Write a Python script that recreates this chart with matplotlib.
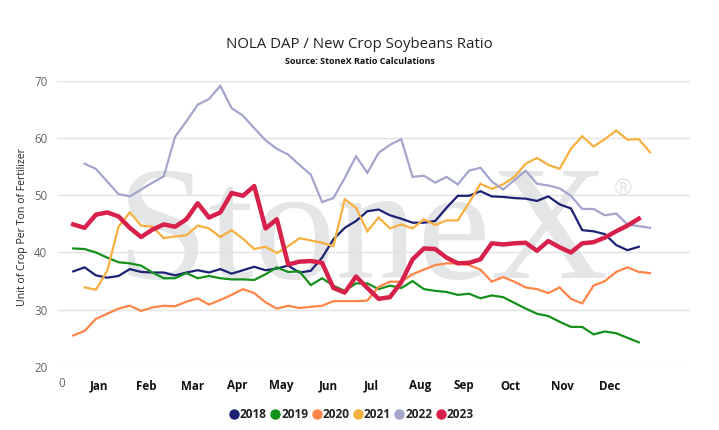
import numpy as np
import matplotlib.pyplot as plt
from matplotlib.lines import Line2D

plt.rcParams['font.family'] = ['Open Sans', 'DejaVu Sans']

# weekly ratios (week 1..52)
weeks = np.arange(1, 53)

y2018 = [36.7, 37.4, 36.0, 35.6, 35.9, 37.1, 36.6, 36.5, 36.5, 36.0, 36.5, 36.9, 36.5,
         37.1, 36.3, 36.9, 37.5, 36.9, 37.2, 37.7, 36.5, 36.8, 39.1, 42.3, 44.3, 45.5,
         47.2, 47.5, 46.5, 45.9, 45.2, 45.2, 45.5, 47.8, 49.9, 49.9, 50.7, 49.8, 49.7,
         49.5, 49.4, 49.0, 49.8, 48.4, 47.7, 43.9, 43.7, 43.2, 41.3, 40.4, 41.0]
y2019 = [40.7, 40.6, 40.0, 39.1, 38.3, 38.1, 37.7, 36.5, 35.5, 35.5, 36.4, 35.5, 35.9,
         35.5, 35.3, 35.3, 35.2, 36.2, 37.4, 36.6, 36.7, 34.3, 35.5, 34.2, 33.3, 34.6,
         34.6, 33.6, 34.2, 33.8, 35.0, 33.6, 33.3, 33.1, 32.6, 32.8, 32.0, 32.5, 32.2,
         31.2, 30.2, 29.3, 28.9, 27.9, 27.0, 27.0, 25.7, 26.2, 25.9, 25.1, 24.3]
y2020 = [25.5, 26.3, 28.4, 29.3, 30.2, 30.7, 29.8, 30.4, 30.7, 30.6, 31.4, 32.0, 30.9,
         31.7, 32.6, 33.6, 32.9, 31.3, 30.2, 30.7, 30.3, 30.5, 30.7, 31.5, 31.5, 31.5,
         31.6, 34.0, 34.9, 34.9, 36.2, 37.0, 37.8, 38.1, 38.1, 37.8, 37.0, 34.9, 35.7,
         34.9, 33.9, 33.6, 32.9, 33.9, 31.9, 31.1, 34.2, 35.0, 36.6, 37.4, 36.6, 36.4]
# 2021 and 2022 start at week 2
y2021 = [33.9, 33.5, 36.8, 44.5, 47.0, 44.7, 44.5, 42.5, 42.8, 43.0, 44.7, 44.2, 42.7,
         43.9, 42.4, 40.6, 41.0, 39.9, 41.1, 42.5, 42.1, 41.7, 41.1, 49.3, 47.8, 43.7,
         46.1, 44.2, 44.9, 44.2, 45.8, 44.8, 45.6, 45.6, 48.7, 52.0, 51.1, 51.9, 53.2,
         55.5, 56.5, 55.3, 54.6, 58.1, 60.3, 58.5, 59.8, 61.3, 59.7, 59.8, 57.5]
y2022 = [55.5, 54.6, 52.4, 50.2, 49.8, 51.0, 52.2, 53.3, 60.2, 62.9, 65.8, 66.8, 69.1,
         65.2, 63.9, 61.7, 59.6, 58.1, 57.1, 55.3, 53.6, 48.8, 49.5, 53.0, 56.8, 53.9,
         57.4, 58.8, 59.8, 53.2, 53.4, 52.2, 53.2, 51.9, 54.3, 54.8, 52.4, 51.0, 52.6,
         54.3, 52.0, 51.7, 51.2, 49.9, 47.6, 47.6, 46.5, 46.8, 44.9, 44.6, 44.3]
y2023 = [44.9, 44.3, 46.6, 47.0, 46.3, 44.3, 42.7, 44.0, 44.9, 44.5, 45.8, 48.6, 46.1,
         47.0, 50.4, 49.9, 51.6, 44.2, 45.8, 37.9, 38.4, 38.5, 38.2, 33.8, 33.0, 35.8,
         33.8, 31.9, 32.2, 34.8, 38.8, 40.7, 40.6, 39.1, 38.1, 38.2, 38.8, 41.6, 41.4,
         41.6, 41.7, 40.3, 42.0, 40.9, 40.0, 41.6, 41.8, 42.6, 43.7, 44.7, 45.9]

months = ['Jan', 'Feb', 'Mar', 'Apr', 'May', 'Jun', 'Jul', 'Aug', 'Sep', 'Oct', 'Nov', 'Dec']
month_pos = [3.25, 7.49, 11.56, 15.47, 19.43, 23.52, 27.38, 31.65, 35.54, 39.61, 44.21, 48.39]

series = [
    ('2018', weeks[:len(y2018)], y2018, '#1c2273', 1.6),
    ('2019', weeks[:len(y2019)], y2019, '#15901a', 1.6),
    ('2020', weeks[:len(y2020)], y2020, '#ff8548', 1.6),
    ('2021', weeks[1:1 + len(y2021)], y2021, '#f7b040', 1.6),
    ('2022', weeks[1:1 + len(y2022)], y2022, '#a3a5cc', 1.6),
    ('2023', weeks[:len(y2023)], y2023, '#d7214b', 3.2),
]

fig = plt.figure(figsize=(7.19, 4.30), dpi=100)
ax = fig.add_axes([57 / 719, 1 - 367 / 430, 633 / 719, (367 - 80.7) / 430])

# watermark
ax.text(0.483, 0.31, 'StoneX', transform=ax.transAxes, ha='center', va='baseline',
        fontsize=118, family='Liberation Serif', color='#e4e5e7', zorder=0)
ax.text(0.895, 0.62, '®', transform=ax.transAxes, ha='center', va='center',
        fontsize=16, color='#e4e5e7', zorder=0)

for name, x, y, c, lw in series:
    ax.plot(x, y, color=c, lw=lw, zorder=3 if name != '2023' else 4,
            solid_joinstyle='miter' if name != '2023' else 'round')

ax.set_xlim(-0.44, 55.53)
ax.set_ylim(20, 70)
ax.set_yticks([20, 30, 40, 50, 60, 70])
ax.set_xticks(month_pos)
ax.set_xticklabels(months, fontweight='bold', fontsize=8.4, color='#111111')
ax.tick_params(axis='x', length=0, pad=9)
ax.tick_params(axis='y', length=0, labelsize=8.3, labelcolor='#666666', pad=7)
ax.text(0, -0.035, '0', transform=ax.get_xaxis_transform(), ha='center', va='top',
        fontsize=8.3, color='#666666')

ax.grid(axis='y', color='#e3e3e3', lw=1)
ax.set_axisbelow(True)
for s in ax.spines.values():
    s.set_visible(False)

ax.set_ylabel('Unit of Crop Per Ton of Fertilizer', fontsize=7.6, color='#222222')
ax.yaxis.set_label_coords(-0.046, 0.49)

fig.text(0.5, 1 - 44 / 430, 'NOLA DAP / New Crop Soybeans Ratio', ha='center', va='center',
         fontsize=10.8, color='#222222')
fig.text(0.5, 1 - 62 / 430, 'Source: StoneX Ratio Calculations', ha='center', va='center',
         fontsize=6.5, fontweight='bold', color='#111111')

handles = [Line2D([], [], ls='none', marker='o', ms=6.5, color=c) for _, _, _, c, _ in series]
labels = [name for name, *_ in series]
leg = fig.legend(handles, labels, loc='center', bbox_to_anchor=(352 / 719, 1 - 415 / 430),
                 ncol=6, frameon=False, handlelength=0.6, handletextpad=0.2,
                 columnspacing=0.4, prop={'size': 8.6, 'weight': 'bold'})
for t in leg.get_texts():
    t.set_color('#222222')

fig.savefig('out.png', dpi=100)
